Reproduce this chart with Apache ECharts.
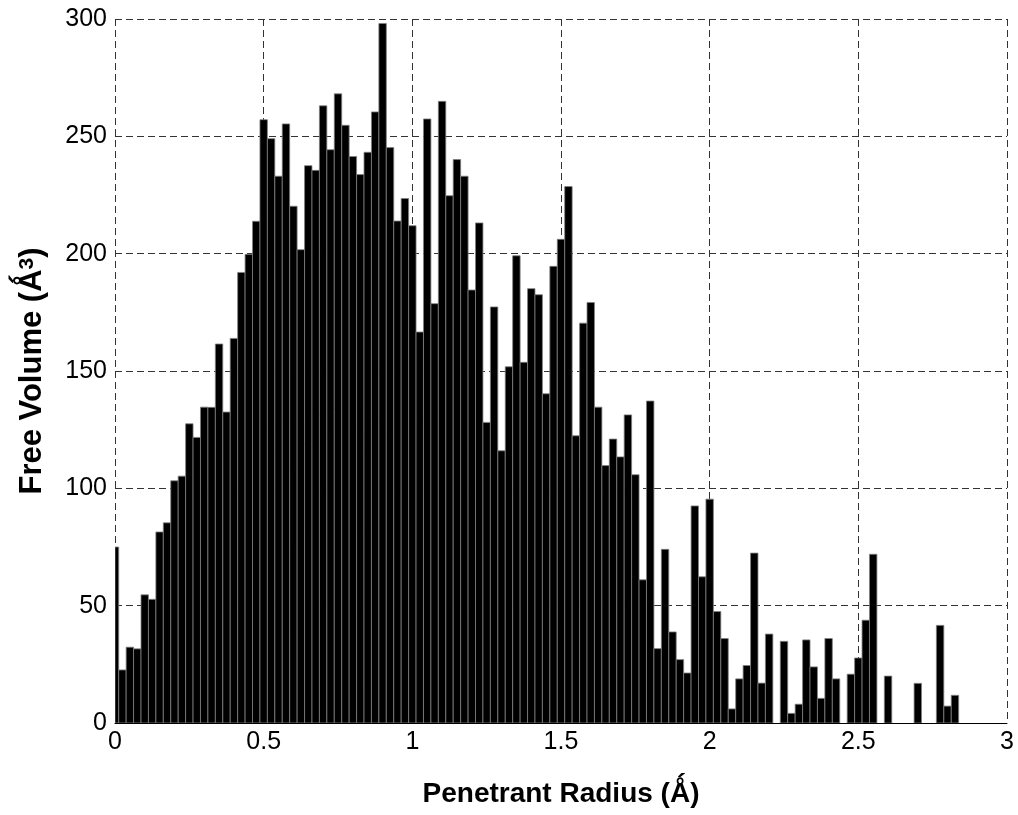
<!DOCTYPE html>
<html>
<head>
<meta charset="utf-8">
<script src="https://cdn.jsdelivr.net/npm/echarts@6/dist/echarts.min.js"></script>
<style>html,body{margin:0;padding:0;background:#fff;}#c{width:1018px;height:815px;}</style>
</head>
<body>
<div id="c"></div>
<script>
// Histogram: bin width and bin heights (bin centres are index * binWidth)
const binWidth = 0.025;
const freeVolume = [
  75, 22.6, 32.3, 31.6, 54.6, 52.7, 81.4, 85.3, 103.2, 105.2,
  127.5, 121.7, 134.6, 134.5, 161.5, 132.5, 163.9, 192.0, 199.7, 213.8,
  257.1, 249.0, 233.0, 255.3, 220.2, 201.7, 237.5, 235.5, 263.0, 244.3,
  268.1, 254.7, 241.4, 233.7, 243.2, 260.4, 298.1, 245.2, 213.9, 223.5,
  211.9, 166.6, 257.4, 178.7, 264.9, 224.7, 240.1, 233.0, 184.5, 213.1,
  128.1, 177.3, 116.0, 151.8, 199.1, 153.7, 185.1, 182.5, 140.3, 194.6,
  206.1, 228.6, 122.4, 170.4, 179.2, 134.6, 109.7, 121.0, 113.4, 131.3,
  105.8, 61.0, 137.2, 31.7, 74.0, 38.8, 27.0, 21.3, 92.5, 62.3,
  95.4, 47.5, 36.0, 6.0, 18.8, 24.5, 72.4, 17.0, 37.9, 0,
  34.8, 4.1, 8.0, 35.4, 23.9, 10.5, 36.0, 18.8, 0, 20.8,
  27.7, 43.8, 71.9, 0, 20.0, 0, 0, 0, 16.9, 0,
  0, 41.6, 7.2, 11.8, 0, 0, 0, 0, 0, 0,
  0
];
const xTicks = [0, 0.5, 1, 1.5, 2, 2.5, 3];
const yTicks = [0, 50, 100, 150, 200, 250, 300];
const xName = 'Penetrant Radius (\u01FA)';
const yName = 'Free Volume (\u01FA{sup|3})';

const xMin = xTicks[0], xMax = xTicks[xTicks.length - 1];
const yMin = yTicks[0], yMax = yTicks[yTicks.length - 1];

const data = freeVolume.map((v, i) => [i * binWidth, v]);

const chart = echarts.init(document.getElementById('c'), null, {renderer: 'canvas'});
const font = "'Liberation Sans', Arial, Helvetica, sans-serif";
const gridStyle = {color: '#333', width: 1, type: [7, 4]};

chart.setOption({
  backgroundColor: '#ffffff',
  animation: false,
  grid: {left: 115, right: 11, top: 19, bottom: 92, containLabel: false},
  xAxis: {
    type: 'value', min: xMin, max: xMax, interval: 0.5,
    name: xName, nameLocation: 'middle', nameGap: 57,
    nameTextStyle: {fontFamily: font, fontSize: 28, fontWeight: 'bold', color: '#000'},
    axisLine: {show: true, lineStyle: {color: '#000', width: 1}},
    axisTick: {show: false},
    axisLabel: {fontFamily: font, fontSize: 25, color: '#000', margin: 7,
      formatter: v => String(v)},
    splitLine: {show: true, lineStyle: gridStyle}
  },
  yAxis: {
    type: 'value', min: yMin, max: yMax, interval: 50,
    name: yName, nameLocation: 'middle', nameGap: 67,
    nameTextStyle: {fontFamily: font, fontSize: 31, fontWeight: 'bold', color: '#000',
      rich: {sup: {fontFamily: font, fontSize: 21, fontWeight: 'bold', color: '#000', verticalAlign: 'top', padding: [0, 0, 10, 0]}}},
    axisLine: {show: false},
    axisTick: {show: false},
    axisLabel: {fontFamily: font, fontSize: 25, color: '#000', margin: 8},
    splitLine: {show: true, lineStyle: gridStyle}
  },
  series: [{
    type: 'custom',
    clip: true,
    data: data,
    encode: {x: 0, y: 1},
    renderItem: function (params, api) {
      const c = api.value(0), v = api.value(1);
      if (!v) return null;
      const l = Math.max(c - binWidth / 2, xMin);
      const r = Math.min(c + binWidth / 2, xMax);
      const p0 = api.coord([l, v]);
      const p1 = api.coord([r, 0]);
      return {
        type: 'rect',
        shape: {x: p0[0], y: p0[1], width: p1[0] - p0[0], height: p1[1] - p0[1]},
        style: {fill: '#000', stroke: '#808080', lineWidth: 0.8}
      };
    },
    z: 3
  }]
});
</script>
</body>
</html>
